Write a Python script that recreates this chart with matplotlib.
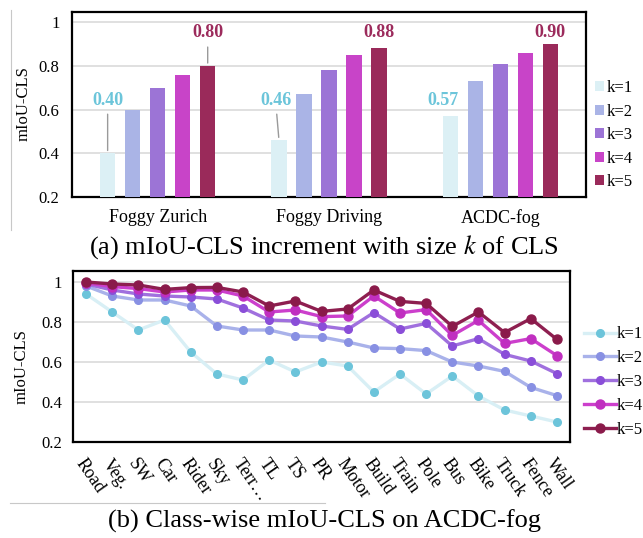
import numpy as np
import matplotlib.pyplot as plt
from matplotlib.lines import Line2D

plt.rcParams['font.family'] = ['Liberation Serif', 'DejaVu Serif']
plt.rcParams['mathtext.fontset'] = 'stix'

# ----------------------------
# Data
# ----------------------------
datasets = ["Foggy Zurich", "Foggy Driving", "ACDC-fog"]
k_labels = ["k=1", "k=2", "k=3", "k=4", "k=5"]
bar_k1 = [0.40, 0.46, 0.57]
bar_k2 = [0.60, 0.67, 0.73]
bar_k3 = [0.70, 0.78, 0.81]
bar_k4 = [0.76, 0.85, 0.86]
bar_k5 = [0.80, 0.88, 0.90]

classes = ["Road", "Veg.", "SW", "Car", "Rider", "Sky", "Terr…", "TL", "TS", "PR",
           "Motor", "Build", "Train", "Pole", "Bus", "Bike", "Truck", "Fence", "Wall"]
cls_k1 = [0.94, 0.85, 0.76, 0.81, 0.65, 0.54, 0.51, 0.61, 0.55, 0.60,
          0.58, 0.45, 0.54, 0.44, 0.53, 0.43, 0.36, 0.33, 0.30]
cls_k2 = [0.98, 0.93, 0.91, 0.91, 0.88, 0.78, 0.76, 0.76, 0.73, 0.725,
          0.70, 0.67, 0.667, 0.657, 0.60, 0.58, 0.553, 0.473, 0.432]
cls_k3 = [0.99, 0.96, 0.94, 0.93, 0.925, 0.915, 0.87, 0.81, 0.805, 0.78,
          0.763, 0.847, 0.765, 0.793, 0.68, 0.717, 0.638, 0.605, 0.542]
cls_k4 = [0.995, 0.977, 0.967, 0.95, 0.96, 0.96, 0.93, 0.85, 0.86, 0.827,
          0.83, 0.93, 0.845, 0.862, 0.733, 0.808, 0.693, 0.717, 0.632]
cls_k5 = [1.0, 0.99, 0.985, 0.963, 0.972, 0.973, 0.95, 0.88, 0.905, 0.853,
          0.865, 0.96, 0.903, 0.893, 0.778, 0.85, 0.747, 0.817, 0.713]

bar_colors = ["#dcf0f5", "#aab4e6", "#9c74d6", "#c844c8", "#9a2a5a"]
line_colors = ["#d8eff5", "#a9b2ea", "#a070de", "#cc3fcc", "#8e1f50"]
marker_colors = ["#6cc4da", "#8890e3", "#8a4ed8", "#c02fc0", "#8a1a4a"]

fig = plt.figure(figsize=(6.43, 5.38), dpi=100)

# ----------------------------
# (a) bar chart
# ----------------------------
ax1 = fig.add_axes([72/643, 1-197/538, (586-72)/643, (197-12)/538])
x = np.arange(len(datasets))
width = 0.088
pitch = 0.146
bars = [bar_k1, bar_k2, bar_k3, bar_k4, bar_k5]
for i, vals in enumerate(bars):
    ax1.bar(x + (i-2)*pitch, vals, width, color=bar_colors[i], label=k_labels[i],
            zorder=3)
ax1.set_ylim(0.2, 1.046)
ax1.set_xlim(-0.5, 2.5)
ax1.set_yticks([0.2, 0.4, 0.6, 0.8, 1.0])
ax1.set_yticklabels(["0.2", "0.4", "0.6", "0.8", "1"])
ax1.set_xticks(x)
ax1.set_xticklabels(datasets)
ax1.tick_params(axis='both', length=0, labelsize=12)
ax1.tick_params(axis='x', pad=9, labelsize=13)
ax1.tick_params(axis='y', pad=9)
ax1.yaxis.grid(True, color="#dadada", lw=1.2, zorder=0)
ax1.set_axisbelow(True)
for s in ax1.spines.values():
    s.set_linewidth(1.6)

# value annotations
cyan_txt = "#6cc5da"
red_txt = "#9c2b5c"
lead = dict(arrowstyle='-', color='#9a9a9a', lw=1)
ax1.annotate("0.40", xy=(x[0]-2*pitch, bar_k1[0]), xytext=(x[0]-2*pitch, 0.643),
             ha='center', va='center', color=cyan_txt, fontsize=13, fontweight='bold',
             arrowprops=lead)
ax1.annotate("0.46", xy=(x[1]-2*pitch, bar_k1[1]), xytext=(x[1]-2*pitch-0.02, 0.643),
             ha='center', va='center', color=cyan_txt, fontsize=13, fontweight='bold',
             arrowprops=lead)
ax1.text(x[2]-2*pitch-0.04, 0.643, "0.57", ha='center', va='center', color=cyan_txt,
         fontsize=13, fontweight='bold')
ax1.annotate("0.80", xy=(x[0]+2*pitch, bar_k5[0]), xytext=(x[0]+2*pitch, 0.95),
             ha='center', va='center', color=red_txt, fontsize=13, fontweight='bold',
             arrowprops=lead)
ax1.text(x[1]+2*pitch, 0.95, "0.88", ha='center', va='center', color=red_txt,
         fontsize=13, fontweight='bold')
ax1.text(x[2]+2*pitch, 0.95, "0.90", ha='center', va='center', color=red_txt,
         fontsize=13, fontweight='bold')

ax1.legend(loc='center left', bbox_to_anchor=(1.005, 0.335), frameon=False,
           fontsize=12, handlelength=0.55, handleheight=0.55, handletextpad=0.15,
           labelspacing=0.45, borderaxespad=0)
fig.text(24/643, 1-104/538, "mIoU-CLS", rotation=90, ha='center', va='center',
         fontsize=12)
fig.text(324/643, 1-247/538, "(a) mIoU-CLS increment with size $k$ of CLS",
         ha='center', va='center', fontsize=19)

# ----------------------------
# (b) line chart
# ----------------------------
ax2 = fig.add_axes([73/643, 1-442/538, (570-73)/643, (442-271)/538])
xc = np.arange(len(classes))
series = [cls_k1, cls_k2, cls_k3, cls_k4, cls_k5]
for i, vals in enumerate(series):
    ax2.plot(xc, vals, '-', color=line_colors[i], lw=2.4, zorder=3+i)
    ax2.plot(xc, vals, 'o', color=marker_colors[i], ms=5.5 if i < 3 else 6.5,
             zorder=3+i)
ax2.set_ylim(0.2, 1.055)
ax2.set_xlim(-0.5, len(classes)-0.5)
ax2.set_yticks([0.2, 0.4, 0.6, 0.8, 1.0])
ax2.set_yticklabels(["0.2", "0.4", "0.6", "0.8", "1"])
ax2.set_xticks(xc)
ax2.set_xticklabels(classes, rotation=-55, ha='left', va='top', rotation_mode='anchor')
ax2.tick_params(axis='both', length=0, labelsize=12)
ax2.tick_params(axis='x', pad=10, labelsize=13)
ax2.tick_params(axis='y', pad=8)
ax2.yaxis.grid(True, color="#dadada", lw=1.2, zorder=0)
ax2.set_axisbelow(True)
for s in ax2.spines.values():
    s.set_linewidth(1.6)

handles = [Line2D([0], [0], color=line_colors[i], lw=2.4, marker='o',
                  markerfacecolor=marker_colors[i], markeredgecolor=marker_colors[i],
                  ms=5.5 if i < 3 else 6.5) for i in range(5)]
ax2.legend(handles, k_labels, loc='center left', bbox_to_anchor=(1.015, 0.35),
           frameon=False, fontsize=12, handlelength=1.9, handletextpad=0.05,
           labelspacing=0.47, borderaxespad=0)
fig.text(22/643, 1-367/538, "mIoU-CLS", rotation=90, ha='center', va='center',
         fontsize=12)
fig.text(324/643, 1-521/538, "(b) Class-wise mIoU-CLS on ACDC-fog",
         ha='center', va='center', fontsize=19)

# thin separator lines from the original page layout
fig.add_artist(Line2D([11/643, 11/643], [1-10/538, 1-230/538], color="#c8c8c8", lw=0.8))
fig.add_artist(Line2D([10/643, 325/643], [1-503/538, 1-503/538], color="#c8c8c8", lw=0.8))

fig.savefig("out.png", dpi=100)
